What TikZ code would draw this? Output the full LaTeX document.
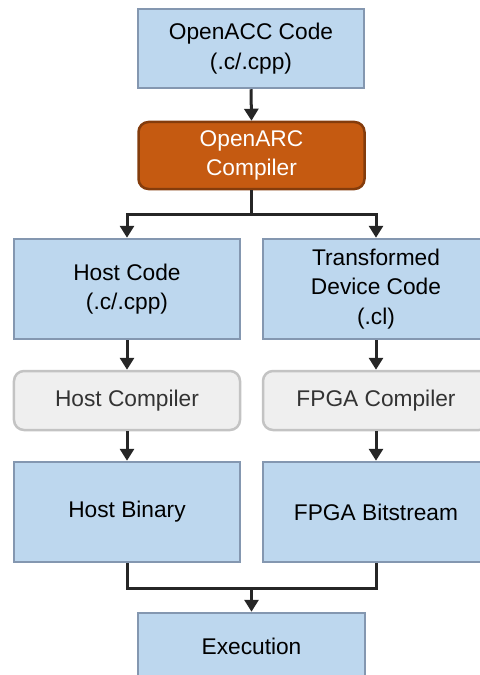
\documentclass[tikz,border=0pt]{standalone}
\usepackage{fontspec}
\setmainfont{Liberation Sans}
\usetikzlibrary{arrows.meta}

\definecolor{codeblue}{HTML}{BDD7EE}
\definecolor{codeedge}{HTML}{8497B0}
\definecolor{arcfill}{HTML}{C55A11}
\definecolor{arcedge}{HTML}{843C0C}
\definecolor{compfill}{HTML}{EFEFEF}
\definecolor{compedge}{HTML}{C3C3C3}
\definecolor{wire}{HTML}{262626}

\tikzset{
  codebox/.style={rectangle,fill=codeblue,draw=codeedge,line width=2.5bp,
    minimum width=226bp,align=center,text=black,
    font=\fontsize{22.8}{29.5}\selectfont},
  arcbox/.style={codebox,rounded corners=10bp,fill=arcfill,draw=arcedge,text=white},
  compbox/.style={codebox,rounded corners=10bp,fill=compfill,draw=compedge,text=black!80},
  wireline/.style={draw=wire,line width=3bp},
  wirearrow/.style={wireline,-{Triangle[length=12bp,width=14bp]}},
}

\begin{document}
\begin{tikzpicture}[x=1bp,y=-1bp]
\useasboundingbox (0,0) rectangle (480,675);
\clip (0,0) rectangle (480,675);

\node[codebox,minimum height=79bp] (acc) at (251,48.5) {OpenACC Code\\(.c/.cpp)};
\node[arcbox,minimum height=67bp] (arc) at (251.5,155.5) {OpenARC\\Compiler};

\node[codebox,minimum height=100bp] (host) at (127,289) {Host Code\\(.c/.cpp)};
\node[codebox,minimum height=100bp] (dev) at (376,289) {Transformed\\Device Code\\(.cl)};

\node[compbox,minimum height=59bp] (hostcc) at (127,400.5) {Host Compiler};
\node[compbox,minimum height=59bp] (fpgacc) at (376,400.5) {FPGA Compiler};

\node[codebox,minimum height=100bp] (bin) at (127,512) {Host Binary};
\node[codebox,minimum height=100bp] (bit) at (376,512) {FPGA Bitstream};

\node[codebox,minimum height=66bp,minimum width=227bp] (exec) at (251.5,646) {Execution};

% split after the compiler
\coordinate (fork) at (251.5,214);
\draw[wireline] (arc.south) -- (fork);
\draw[wirearrow] (fork) -| (host.north);
\draw[wirearrow] (fork) -| (dev.north);

\draw[wirearrow] (acc.south) -- (arc.north);
\draw[wirearrow] (host.south) -- (hostcc.north);
\draw[wirearrow] (dev.south) -- (fpgacc.north);
\draw[wirearrow] (hostcc.south) -- (bin.north);
\draw[wirearrow] (fpgacc.south) -- (bit.north);

% join the two binaries
\coordinate (merge) at (251.5,588);
\draw[wireline] (bin.south) |- (merge) -| (bit.south);
\draw[wirearrow] (merge) -- (exec.north);
\end{tikzpicture}
\end{document}
